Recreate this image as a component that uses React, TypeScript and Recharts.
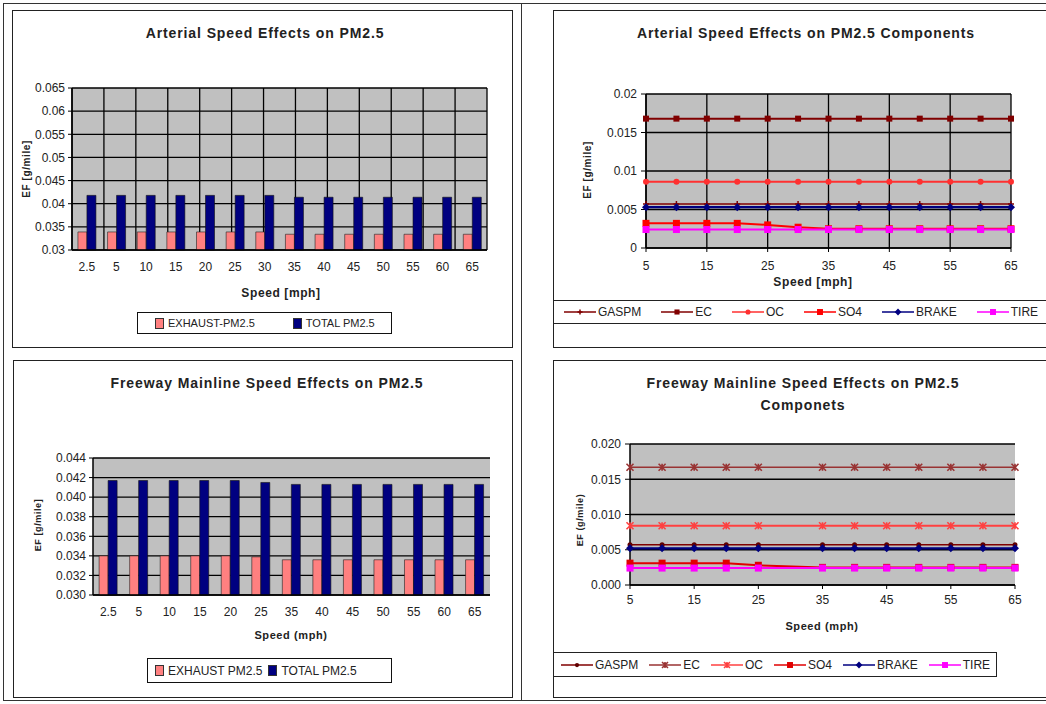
import React from 'react';
import { BarChart, Bar, LineChart, Line, XAxis, YAxis, CartesianGrid } from 'recharts';

const FONT = '"Liberation Sans", Arial, sans-serif';

// arterial totals (g/mile)
const ART_SPEEDS = ['2.5', '5', '10', '15', '20', '25', '30', '35', '40', '45', '50', '55', '60', '65'];
const ART_EXHAUST = [0.0339, 0.0339, 0.0339, 0.0339, 0.0339, 0.0339, 0.0339, 0.0334, 0.0334, 0.0334, 0.0334, 0.0334, 0.0334, 0.0334];
const ART_TOTAL = [0.0418, 0.0418, 0.0418, 0.0418, 0.0418, 0.0418, 0.0418, 0.0414, 0.0414, 0.0414, 0.0414, 0.0414, 0.0414, 0.0414];
const ART_Y_TICKS = [0.03, 0.035, 0.04, 0.045, 0.05, 0.055, 0.06, 0.065];

// freeway totals
const FWY_SPEEDS = ['2.5', '5', '10', '15', '20', '25', '35', '40', '45', '50', '55', '60', '65'];
const FWY_EXHAUST = [0.034, 0.034, 0.034, 0.034, 0.034, 0.0339, 0.0336, 0.0336, 0.0336, 0.0336, 0.0336, 0.0336, 0.0336];
const FWY_TOTAL = [0.0417, 0.0417, 0.0417, 0.0417, 0.0417, 0.0415, 0.0413, 0.0413, 0.0413, 0.0413, 0.0413, 0.0413, 0.0413];
const FWY_Y_TICKS = [0.03, 0.032, 0.034, 0.036, 0.038, 0.04, 0.042, 0.044];

// arterial components
const ART_COMP_SPEEDS = [5, 10, 15, 20, 25, 30, 35, 40, 45, 50, 55, 60, 65];
const ART_GASPM = [0.0057, 0.0057, 0.0057, 0.0057, 0.0057, 0.0057, 0.0057, 0.0057, 0.0057, 0.0057, 0.0057, 0.0057, 0.0057];
const ART_EC = [0.0168, 0.0168, 0.0168, 0.0168, 0.0168, 0.0168, 0.0168, 0.0168, 0.0168, 0.0168, 0.0168, 0.0168, 0.0168];
const ART_OC = [0.0086, 0.0086, 0.0086, 0.0086, 0.0086, 0.0086, 0.0086, 0.0086, 0.0086, 0.0086, 0.0086, 0.0086, 0.0086];
const ART_SO4 = [0.0032, 0.0032, 0.0032, 0.0032, 0.003, 0.0027, 0.0025, 0.0025, 0.0025, 0.0025, 0.0025, 0.0025, 0.0025];
const ART_BRAKE = [0.0053, 0.0053, 0.0053, 0.0053, 0.0053, 0.0053, 0.0053, 0.0053, 0.0053, 0.0053, 0.0053, 0.0053, 0.0053];
const ART_TIRE = [0.0024, 0.0024, 0.0024, 0.0024, 0.0024, 0.0024, 0.0024, 0.0024, 0.0024, 0.0024, 0.0024, 0.0024, 0.0024];

// freeway components (no 30 mph point)
const FWY_COMP_SPEEDS = [5, 10, 15, 20, 25, 35, 40, 45, 50, 55, 60, 65];
const FWY_GASPM = [0.0057, 0.0057, 0.0057, 0.0057, 0.0057, 0.0057, 0.0057, 0.0057, 0.0057, 0.0057, 0.0057, 0.0057];
const FWY_EC = [0.0167, 0.0167, 0.0167, 0.0167, 0.0167, 0.0167, 0.0167, 0.0167, 0.0167, 0.0167, 0.0167, 0.0167];
const FWY_OC = [0.0084, 0.0084, 0.0084, 0.0084, 0.0084, 0.0084, 0.0084, 0.0084, 0.0084, 0.0084, 0.0084, 0.0084];
const FWY_SO4 = [0.0031, 0.0031, 0.0031, 0.0031, 0.0028, 0.0025, 0.0025, 0.0025, 0.0025, 0.0025, 0.0025, 0.0025];
const FWY_BRAKE = [0.0052, 0.0052, 0.0052, 0.0052, 0.0052, 0.0052, 0.0052, 0.0052, 0.0052, 0.0052, 0.0052, 0.0052];
const FWY_TIRE = [0.0024, 0.0024, 0.0024, 0.0024, 0.0024, 0.0024, 0.0024, 0.0024, 0.0024, 0.0024, 0.0024, 0.0024];

const COMP_X_TICKS = [5, 15, 25, 35, 45, 55, 65];
const COMP_Y_TICKS = [0, 0.005, 0.01, 0.015, 0.02];

const GRID_FILL = '#c0c0c0';
const EXHAUST_COLOR = '#ff8080';
const TOTAL_COLOR = '#000080';

type Shape = 'plus' | 'square' | 'circle' | 'diamond' | 'star' | 'dot';
interface SeriesDef { key: string; name: string; color: string; width: number; shape: Shape; size: number; }

const ART_SERIES: SeriesDef[] = [
  { key: 'gaspm', name: 'GASPM', color: '#800000', width: 1.5, shape: 'plus', size: 3 },
  { key: 'ec', name: 'EC', color: '#800000', width: 2, shape: 'square', size: 3 },
  { key: 'oc', name: 'OC', color: '#ff3030', width: 2, shape: 'circle', size: 3 },
  { key: 'so4', name: 'SO4', color: '#ff0000', width: 2, shape: 'square', size: 3.5 },
  { key: 'brake', name: 'BRAKE', color: '#000080', width: 2.2, shape: 'diamond', size: 4 },
  { key: 'tire', name: 'TIRE', color: '#ff00ff', width: 2, shape: 'square', size: 3.5 },
];

const FWY_SERIES: SeriesDef[] = [
  { key: 'gaspm', name: 'GASPM', color: '#800000', width: 1.5, shape: 'dot', size: 2.5 },
  { key: 'ec', name: 'EC', color: '#993333', width: 1.5, shape: 'star', size: 3.5 },
  { key: 'oc', name: 'OC', color: '#ff4040', width: 2, shape: 'star', size: 3.5 },
  { key: 'so4', name: 'SO4', color: '#e00000', width: 2, shape: 'square', size: 3.5 },
  { key: 'brake', name: 'BRAKE', color: '#000080', width: 2.2, shape: 'diamond', size: 4 },
  { key: 'tire', name: 'TIRE', color: '#ff00ff', width: 2, shape: 'square', size: 3.5 },
];

const artBarRows = ART_SPEEDS.map((s, i) => ({ speed: s, exhaust: ART_EXHAUST[i], total: ART_TOTAL[i] }));
const fwyBarRows = FWY_SPEEDS.map((s, i) => ({ speed: s, exhaust: FWY_EXHAUST[i], total: FWY_TOTAL[i] }));
const artCompRows = ART_COMP_SPEEDS.map((s, i) => ({
  speed: s, gaspm: ART_GASPM[i], ec: ART_EC[i], oc: ART_OC[i], so4: ART_SO4[i], brake: ART_BRAKE[i], tire: ART_TIRE[i],
}));
const fwyCompRows = FWY_COMP_SPEEDS.map((s, i) => ({
  speed: s, gaspm: FWY_GASPM[i], ec: FWY_EC[i], oc: FWY_OC[i], so4: FWY_SO4[i], brake: FWY_BRAKE[i], tire: FWY_TIRE[i],
}));

const tickStyle = { fontSize: 12, fill: '#222', fontFamily: FONT };
const shortFmt = (v: number) => String(Number(v.toFixed(3)));
const fixedFmt = (v: number) => v.toFixed(3);

function marker(shape: Shape, cx: number, cy: number, color: string, s: number) {
  switch (shape) {
    case 'square':
      return <rect x={cx - s} y={cy - s} width={s * 2} height={s * 2} fill={color} />;
    case 'circle':
      return <circle cx={cx} cy={cy} r={s} fill={color} />;
    case 'dot':
      return <circle cx={cx} cy={cy} r={s} fill="#600000" />;
    case 'diamond':
      return <path d={`M${cx},${cy - s}L${cx + s},${cy}L${cx},${cy + s}L${cx - s},${cy}Z`} fill={color} />;
    case 'plus':
      return <path d={`M${cx - s},${cy}H${cx + s}M${cx},${cy - s}V${cy + s}`} stroke={color} strokeWidth={1.5} />;
    case 'star':
      return (
        <path
          d={`M${cx - s},${cy - s}L${cx + s},${cy + s}M${cx - s},${cy + s}L${cx + s},${cy - s}M${cx},${cy - s}V${cy + s}`}
          stroke={color}
          strokeWidth={1.6}
        />
      );
  }
}

const makeDot = (def: SeriesDef) => (props: any) => {
  const { cx, cy, index } = props;
  if (cx == null || cy == null) return <g key={`e-${index}`} />;
  return <g key={`d-${def.key}-${index}`}>{marker(def.shape, cx, cy, def.color, def.size)}</g>;
};

const box = (left: number, top: number, width: number, height: number, extra: React.CSSProperties = {}): React.CSSProperties => ({
  position: 'absolute', left, top, width, height, boxSizing: 'border-box', ...extra,
});

function Title({ cx, top, lines }: { cx: number; top: number; lines: string[] }) {
  return (
    <div style={{ ...box(cx - 300, top, 600, lines.length * 22), textAlign: 'center', fontWeight: 'bold', fontSize: 14, letterSpacing: 0.9, lineHeight: '22px', color: '#222' }}>
      {lines.map((l) => <div key={l}>{l}</div>)}
    </div>
  );
}

function AxisTitle({ cx, cy, text, rotate = false, size = 12 }: { cx: number; cy: number; text: string; rotate?: boolean; size?: number }) {
  return (
    <div
      style={{
        position: 'absolute', left: cx, top: cy, whiteSpace: 'nowrap', fontWeight: 'bold', fontSize: size, letterSpacing: 0.6, color: '#222',
        transform: `translate(-50%, -50%)${rotate ? ' rotate(-90deg)' : ''}`,
      }}
    >
      {text}
    </div>
  );
}

function BarLegend({ left, top, width, height, names, size, gap, pad }: { left: number; top: number; width: number; height: number; names: string[]; size: number; gap: number; pad: number }) {
  const colors = [EXHAUST_COLOR, TOTAL_COLOR];
  return (
    <div style={{ ...box(left, top, width, height, { border: '1.5px solid #111', display: 'flex', alignItems: 'center', paddingLeft: pad, gap }) }}>
      {names.map((n, i) => (
        <div key={n} style={{ display: 'flex', alignItems: 'center', gap: 4, fontSize: size, color: '#222', whiteSpace: 'nowrap' }}>
          <span style={{ width: 7, height: 9, background: colors[i], border: '0.5px solid #333', display: 'inline-block' }} />
          {n}
        </div>
      ))}
    </div>
  );
}

function LineLegend({ left, top, width, height, series, gap, pad, border }: { left: number; top: number; width: number; height: number; series: SeriesDef[]; gap: number; pad: number; border: React.CSSProperties }) {
  return (
    <div style={{ ...box(left, top, width, height, { ...border, display: 'flex', alignItems: 'center', paddingLeft: pad, gap, whiteSpace: 'nowrap' }) }}>
      {series.map((s) => (
        <div key={s.key} style={{ display: 'flex', alignItems: 'center', gap: 2, fontSize: 12, color: '#222' }}>
          <svg width={32} height={10}>
            <line x1={0} x2={32} y1={5} y2={5} stroke={s.color} strokeWidth={1.5} />
            {marker(s.shape, 16, 5, s.color, s.size * 0.85)}
          </svg>
          {s.name}
        </div>
      ))}
    </div>
  );
}

interface BarPanelProps {
  rows: any[]; yTicks: number[]; fmt: (v: number) => string; width: number; height: number;
  top: number; right: number; yWidth: number; xHeight: number; verticalGrid: boolean;
}

function BarPanel({ rows, yTicks, fmt, width, height, top, right, yWidth, xHeight, verticalGrid }: BarPanelProps) {
  const edges = rows.map((_, i) => i).concat(rows.length);
  return (
    <BarChart width={width} height={height} data={rows} margin={{ top, right, left: 0, bottom: 0 }} barCategoryGap="20%" barGap={0}>
      <CartesianGrid xAxisId="edge" fill={GRID_FILL} fillOpacity={1} stroke="#000" strokeWidth={1.3} vertical={verticalGrid} />
      <XAxis xAxisId="edge" type="number" domain={[0, rows.length]} allowDataOverflow ticks={edges} height={0}
        tickFormatter={() => ''} axisLine={false} tickSize={4} tickLine={{ stroke: '#000' }} interval={0} />
      <XAxis xAxisId="cat" dataKey="speed" height={xHeight} tick={tickStyle} tickLine={false} tickSize={0} tickMargin={12}
        axisLine={{ stroke: '#000', strokeWidth: 1.5 }} interval={0} />
      <YAxis type="number" domain={[yTicks[0], yTicks[yTicks.length - 1]]} ticks={yTicks} width={yWidth} tick={tickStyle}
        tickFormatter={fmt} tickSize={4} tickMargin={3} axisLine={{ stroke: '#000', strokeWidth: 1.5 }} tickLine={{ stroke: '#000' }}
        interval={0} />
      <Bar xAxisId="cat" dataKey="exhaust" fill={EXHAUST_COLOR} stroke="#222" strokeWidth={0.6} isAnimationActive={false} />
      <Bar xAxisId="cat" dataKey="total" fill={TOTAL_COLOR} stroke="#111" strokeWidth={0.6} isAnimationActive={false} />
    </BarChart>
  );
}

interface LinePanelProps {
  rows: any[]; series: SeriesDef[]; fmt: (v: number) => string; width: number; height: number;
  top: number; right: number; yWidth: number; xHeight: number; verticalGrid: boolean; xMargin: number;
}

function LinePanel({ rows, series, fmt, width, height, top, right, yWidth, xHeight, verticalGrid, xMargin }: LinePanelProps) {
  return (
    <LineChart width={width} height={height} data={rows} margin={{ top, right, left: 0, bottom: 0 }}>
      <CartesianGrid fill={GRID_FILL} fillOpacity={1} stroke="#000" strokeWidth={1.3} vertical={verticalGrid} />
      <XAxis dataKey="speed" type="number" domain={[5, 65]} ticks={COMP_X_TICKS} height={xHeight} tick={tickStyle}
        tickSize={4} tickMargin={xMargin} axisLine={{ stroke: '#000', strokeWidth: 1.5 }} tickLine={{ stroke: '#000' }} interval={0} />
      <YAxis type="number" domain={[0, 0.02]} ticks={COMP_Y_TICKS} width={yWidth} tick={tickStyle} tickFormatter={fmt}
        tickSize={5} tickMargin={4} axisLine={{ stroke: '#000', strokeWidth: 1.5 }} tickLine={{ stroke: '#000' }} interval={0} />
      {series.map((s) => (
        <Line key={s.key} type="linear" dataKey={s.key} stroke={s.color} strokeWidth={s.width} dot={makeDot(s)}
          activeDot={false} isAnimationActive={false} />
      ))}
    </LineChart>
  );
}

export default function App() {
  return (
    <div style={{ position: 'absolute', left: 0, top: 0, width: 1046, height: 704, overflow: 'hidden', background: '#fff', fontFamily: FONT }}>
      {/* page frame */}
      <div style={box(3, 3, 1100, 698, { border: '1.5px solid #333' })} />
      <div style={box(521, 3, 1, 698, { background: '#333' })} />

      {/* top left: arterial totals */}
      <div style={box(12, 10, 501, 338, { border: '1.5px solid #222' })} />
      <div style={box(12, 10, 501, 338)}>
        <BarPanel rows={artBarRows} yTicks={ART_Y_TICKS} fmt={shortFmt} width={501} height={338} top={78} right={26}
          yWidth={60} xHeight={98} verticalGrid />
      </div>
      <Title cx={265} top={22} lines={['Arterial Speed Effects on PM2.5']} />
      <AxisTitle cx={281} cy={293} text="Speed [mph]" />
      <AxisTitle cx={26} cy={169} text="EF [g/mile]" rotate size={10} />
      <BarLegend left={137} top={312} width={255} height={22} names={['EXHAUST-PM2.5', 'TOTAL PM2.5']} size={11} gap={38} pad={17} />

      {/* top right: arterial components */}
      <div style={box(553, 10, 600, 338, { border: '1.5px solid #222' })} />
      <div style={box(553, 10, 493, 338)}>
        <LinePanel rows={artCompRows} series={ART_SERIES} fmt={shortFmt} width={493} height={338} top={84} right={35}
          yWidth={93} xHeight={100} verticalGrid xMargin={9} />
      </div>
      <Title cx={806} top={22} lines={['Arterial Speed Effects on PM2.5 Components']} />
      <AxisTitle cx={813} cy={282} text="Speed [mph]" />
      <AxisTitle cx={587} cy={170} text="EF [g/mile]" rotate size={10} />
      <LineLegend left={553} top={300} width={600} height={24} series={ART_SERIES} gap={20} pad={11}
        border={{ borderTop: '1.5px solid #222', borderBottom: '1.5px solid #222' }} />

      {/* bottom left: freeway totals */}
      <div style={box(13, 360, 500, 338, { border: '1.5px solid #222' })} />
      <div style={box(13, 360, 500, 338)}>
        <BarPanel rows={fwyBarRows} yTicks={FWY_Y_TICKS} fmt={fixedFmt} width={500} height={338} top={98} right={23}
          yWidth={80} xHeight={103} verticalGrid={false} />
      </div>
      <Title cx={267} top={372} lines={['Freeway Mainline Speed Effects on PM2.5']} />
      <AxisTitle cx={291} cy={635} text="Speed (mph)" size={11} />
      <AxisTitle cx={38} cy={525} text="EF [g/mile]" rotate size={9} />
      <BarLegend left={147} top={658} width={245} height={25} names={['EXHAUST PM2.5', 'TOTAL PM2.5']} size={12} gap={6} pad={7} />

      {/* bottom right: freeway components */}
      <div style={box(553, 360, 600, 338, { border: '1.5px solid #222' })} />
      <div style={box(553, 360, 493, 338)}>
        <LinePanel rows={fwyCompRows} series={FWY_SERIES} fmt={fixedFmt} width={493} height={338} top={84} right={31}
          yWidth={77} xHeight={113} verticalGrid={false} xMargin={6} />
      </div>
      <Title cx={803} top={372} lines={['Freeway Mainline Speed Effects on PM2.5', 'Componets']} />
      <AxisTitle cx={822} cy={626} text="Speed (mph)" size={11} />
      <AxisTitle cx={580} cy={520} text="EF (g/mile)" rotate size={9} />
      <LineLegend left={553} top={652} width={444} height={25} series={FWY_SERIES} gap={11} pad={7}
        border={{ border: '1.5px solid #222' }} />
    </div>
  );
}
